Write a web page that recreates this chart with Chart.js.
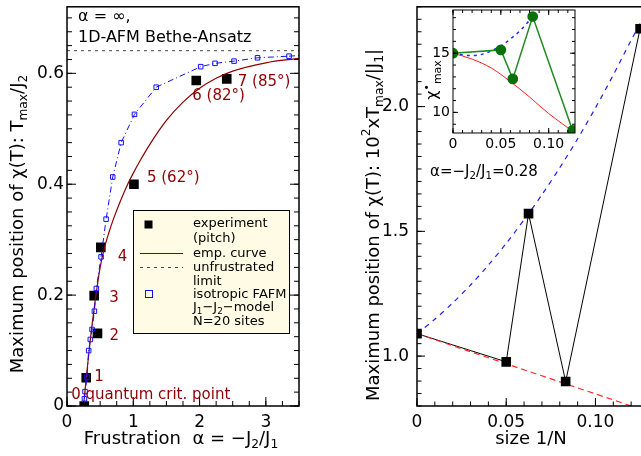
<!DOCTYPE html>
<html><head><meta charset="utf-8">
<script src="https://cdn.jsdelivr.net/npm/chart.js@4.4.1/dist/chart.umd.min.js"></script>
<style>
html,body{margin:0;padding:0;background:#fff;overflow:hidden;width:641px;height:456px;position:relative}
canvas{position:absolute;top:0}
#cL{left:0}
#cR{left:330px}
#cI{left:400px}
</style></head><body>
<canvas id="cL" width="320" height="456" style="width:320px;height:456px"></canvas>
<canvas id="cR" width="330" height="456" style="width:330px;height:456px"></canvas>
<canvas id="cI" width="190" height="160" style="width:190px;height:160px"></canvas>
<script>
// ================= DATA =================
// Left panel: frustration alpha vs T_max/J2
const leftXTicks = [0, 1, 2, 3];
const leftYTicks = [0, 0.2, 0.4, 0.6];
const expAlpha = [0.26, 0.29, 0.46, 0.41, 0.51, 1.01, 1.95, 2.41];
const expTmax  = [0.0, 0.051, 0.131, 0.199, 0.286, 0.400, 0.587, 0.590];
const expLabels = ['0 quantum crit. point', '1', '2', '3', '4', '5 (62°)', '6 (82°)', '7 (85°)'];
const empAlpha = [0.25, 0.29, 0.35, 0.42, 0.5, 0.56, 0.63, 0.7, 0.8, 0.9, 1.0, 1.1, 1.25, 1.5, 1.75, 2.0, 2.25, 2.5, 3.0, 3.5];
const empTmax  = [0.0, 0.05, 0.118, 0.185, 0.25, 0.283, 0.312, 0.337, 0.368, 0.396, 0.42, 0.442, 0.472, 0.515, 0.548, 0.573, 0.591, 0.604, 0.619, 0.627];
const fafmAlpha = [0.263, 0.272, 0.302, 0.327, 0.352, 0.378, 0.413, 0.443, 0.514, 0.59, 0.69, 0.817, 1.018, 1.346, 2.017, 2.233, 2.52, 2.874, 3.35];
const fafmTmax  = [0.013, 0.026, 0.052, 0.100, 0.120, 0.138, 0.171, 0.212, 0.269, 0.337, 0.413, 0.475, 0.526, 0.575, 0.612, 0.618, 0.622, 0.628, 0.631];
const fafmTailAlpha = [3.35, 3.5];
const fafmTailTmax  = [0.631, 0.632];
const betheLimit = 0.6408;

// Right panel: size 1/N vs 10^2 x T_max/|J1|
const rightXTicks = [0, 0.05, 0.10];
const rightYTicks = [1.0, 1.5, 2.0];
const invN  = [0, 0.05, 0.0625, 0.0833, 0.125];
const tmaxN = [1.090, 0.977, 1.571, 0.898, 2.312];
const redFitInvN = [0, 0.13];
const redFitTmax = [1.090, 0.776];
const blueFitInvN = [0, 0.01, 0.02, 0.03, 0.04, 0.05, 0.0625, 0.07, 0.08, 0.09, 0.10, 0.11, 0.12, 0.13];
const blueFitTmax = [1.090, 1.148, 1.213, 1.285, 1.365, 1.452, 1.571, 1.647, 1.755, 1.871, 1.995, 2.127, 2.266, 2.40];

// Inset: chi*_max vs 1/N
const insetXTicks = [0, 0.05, 0.10];
const insetYTicks = [10, 15];
const insetInvN = [0, 0.05, 0.0625, 0.0833, 0.125];
const insetChi  = [15.0, 15.28, 12.83, 18.1, 8.48];
const insetRedInvN = [0, 0.02, 0.04, 0.06, 0.08, 0.10, 0.12, 0.1275];
const insetRedChi  = [15.0, 14.5, 13.75, 12.6, 11.3, 9.9, 8.7, 8.25];
const insetBlueInvN = [0, 0.01, 0.02, 0.03, 0.04, 0.05, 0.06, 0.07, 0.0833];
const insetBlueChi  = [15.0, 14.85, 14.8, 14.9, 15.2, 15.6, 16.2, 16.9, 18.1];

// ================= HELPERS =================
const FONT = "'DejaVu Sans', sans-serif";
const DARKRED = '#8c0000';
const pts = (xs, ys) => xs.map((x, i) => ({x: x, y: ys[i]}));
const setTicks = vals => (scale => { scale.ticks = vals.map(v => ({value: v})); });
const fontStr = s => s + 'px ' + FONT;

function drawRich(ctx, segs, x, y, size, align, rot, color) {
  ctx.save();
  ctx.translate(x, y);
  if (rot) ctx.rotate(rot);
  ctx.fillStyle = color || '#000';
  ctx.textBaseline = 'middle';
  ctx.textAlign = 'left';
  let w = 0;
  for (const s of segs) { ctx.font = fontStr((s.sub || s.sup) ? size * 0.68 : size); w += ctx.measureText(s.t).width; }
  let cx = align === 'center' ? -w / 2 : 0;
  for (const s of segs) {
    const fs = (s.sub || s.sup) ? size * 0.68 : size;
    ctx.font = fontStr(fs);
    const dy = s.sub ? size * 0.32 : (s.sup ? -size * 0.38 : 0);
    ctx.fillText(s.t, cx, dy);
    cx += ctx.measureText(s.t).width;
  }
  ctx.restore();
}

function frameAndTicks(chart, o) {
  const ctx = chart.ctx, a = chart.chartArea, xs = chart.scales.x, ys = chart.scales.y;
  ctx.save();
  ctx.strokeStyle = '#000';
  ctx.lineWidth = o.lw;
  ctx.strokeRect(a.left, a.top, a.right - a.left, a.bottom - a.top);
  ctx.lineWidth = 1;
  ctx.beginPath();
  const yTick = (v, len) => {
    const p = ys.getPixelForValue(v);
    if (p < a.top - 0.5 || p > a.bottom + 0.5) return;
    if (o.left) { ctx.moveTo(a.left, p); ctx.lineTo(a.left + len, p); }
    if (o.right) { ctx.moveTo(a.right, p); ctx.lineTo(a.right - len, p); }
  };
  const xTick = (v, len) => {
    const p = xs.getPixelForValue(v);
    if (p < a.left - 0.5 || p > a.right + 0.5) return;
    if (o.bottom) { ctx.moveTo(p, a.bottom); ctx.lineTo(p, a.bottom - len); }
    if (o.top) { ctx.moveTo(p, a.top); ctx.lineTo(p, a.top + len); }
  };
  const n1 = Math.ceil(ys.min / o.yMinor - 1e-6), n2 = Math.floor(ys.max / o.yMinor + 1e-6);
  for (let i = n1; i <= n2; i++) yTick(i * o.yMinor, o.minor);
  const m1 = Math.ceil(xs.min / o.xMinor - 1e-6), m2 = Math.floor(xs.max / o.xMinor + 1e-6);
  for (let i = m1; i <= m2; i++) xTick(i * o.xMinor, o.minor);
  ys.ticks.forEach(t => yTick(t.value, o.major));
  xs.ticks.forEach(t => xTick(t.value, o.major));
  ctx.stroke();
  ctx.restore();
}

function scaleCfg(min, max, tickVals, fmt, size, pad, fit) {
  return {
    type: 'linear', min: min, max: max,
    afterBuildTicks: setTicks(tickVals),
    afterFit: s => { fit(s); s.paddingTop = 0; s.paddingBottom = 0; s.paddingLeft = 0; s.paddingRight = 0; },
    grid: {display: false, drawTicks: false},
    border: {display: false},
    ticks: {padding: pad, color: '#000', font: {family: FONT, size: size}, callback: fmt, maxRotation: 0, autoSkip: false}
  };
}
const baseOpts = {responsive: false, animation: false, devicePixelRatio: 1, events: [],
  plugins: {legend: {display: false}, tooltip: {enabled: false}}};

// ================= LEFT CHART =================
const labelOffsets = [[-13, -11], [8, -1], [12, 3], [15, 2], [17, 10], [13, -6], [-4, 16], [11, 3]];
const leftDecor = {
  id: 'leftDecor',
  afterDatasetsDraw(chart) {
    const ctx = chart.ctx, xs = chart.scales.x, ys = chart.scales.y;
    frameAndTicks(chart, {lw: 1.5, left: true, right: true, bottom: true, top: false, yMinor: 0.025, xMinor: 0.25, major: 9, minor: 5});
    // point labels
    ctx.save();
    ctx.fillStyle = DARKRED; ctx.font = fontStr(15); ctx.textBaseline = 'middle'; ctx.textAlign = 'left';
    expLabels.forEach((t, i) => {
      ctx.fillText(t, xs.getPixelForValue(expAlpha[i]) + labelOffsets[i][0], ys.getPixelForValue(expTmax[i]) + labelOffsets[i][1]);
    });
    ctx.restore();
    // top annotation
    drawRich(ctx, [{t: 'α = ∞,'}], 78, 17, 16, 'left');
    drawRich(ctx, [{t: '1D-AFM Bethe-Ansatz'}], 78, 38, 16, 'left');
    // legend box
    ctx.save();
    ctx.fillStyle = '#fffbe4'; ctx.strokeStyle = '#000'; ctx.lineWidth = 1;
    ctx.fillRect(133.5, 210.5, 156, 123); ctx.strokeRect(133.5, 210.5, 156, 123);
    ctx.fillStyle = '#000'; ctx.fillRect(144.5, 220.5, 8, 8);
    ctx.strokeStyle = DARKRED; ctx.lineWidth = 1.2; ctx.beginPath(); ctx.moveTo(140, 253.5); ctx.lineTo(183, 253.5); ctx.stroke();
    ctx.strokeStyle = '#444'; ctx.lineWidth = 1; ctx.setLineDash([3, 4]); ctx.beginPath(); ctx.moveTo(140, 267.5); ctx.lineTo(183, 267.5); ctx.stroke();
    ctx.setLineDash([]);
    ctx.strokeStyle = '#1010ff'; ctx.strokeRect(145.5, 290.5, 7, 7);
    ctx.restore();
    const L = 193, fs = 13;
    drawRich(ctx, [{t: 'experiment'}], L, 224, fs, 'left');
    drawRich(ctx, [{t: '(pitch)'}], L, 238.5, fs, 'left');
    drawRich(ctx, [{t: 'emp. curve'}], L, 253.5, fs, 'left');
    drawRich(ctx, [{t: 'unfrustrated'}], L, 267.5, fs, 'left');
    drawRich(ctx, [{t: 'limit'}], L, 282, fs, 'left');
    drawRich(ctx, [{t: 'isotropic FAFM'}], L, 294.5, fs, 'left');
    drawRich(ctx, [{t: 'J'}, {t: '1', sub: 1}, {t: '−J'}, {t: '2', sub: 1}, {t: '−model'}], L, 308, fs, 'left');
    drawRich(ctx, [{t: 'N=20 sites'}], L, 321.5, fs, 'left');
    // axis titles
    drawRich(ctx, [{t: 'Maximum position of χ(T): T'}, {t: 'max', sub: 1}, {t: '/J'}, {t: '2', sub: 1}], 18, 224, 18, 'center', -Math.PI / 2);
    drawRich(ctx, [{t: 'Frustration  α = −J'}, {t: '2', sub: 1}, {t: '/J'}, {t: '1', sub: 1}], 181, 439, 18, 'center');
  }
};

new Chart(document.getElementById('cL'), {
  type: 'scatter',
  data: {datasets: [
    {label: 'isotropic FAFM', data: pts(fafmAlpha, fafmTmax), showLine: true, borderColor: '#1010ff', borderWidth: 1, borderDash: [6, 3, 1, 3],
     pointStyle: 'rect', pointRadius: 3.2, pointBorderColor: '#1010ff', pointBackgroundColor: 'rgba(0,0,0,0)', pointBorderWidth: 1, order: 0},
    {label: 'isotropic FAFM tail', data: pts(fafmTailAlpha, fafmTailTmax), showLine: true, borderColor: '#1010ff', borderWidth: 1, borderDash: [6, 3, 1, 3], pointRadius: 0, order: 0},
    {label: 'emp. curve', data: pts(empAlpha, empTmax), showLine: true, borderColor: DARKRED, borderWidth: 1.2, pointRadius: 0, cubicInterpolationMode: 'monotone', order: 1},
    {label: 'experiment', data: pts(expAlpha, expTmax), showLine: false, pointStyle: 'rect', pointRadius: 6.8, pointBackgroundColor: '#000', pointBorderColor: '#000', pointBorderWidth: 0, order: 2},
    {label: 'unfrustrated limit', data: [{x: 0, y: betheLimit}, {x: 3.5, y: betheLimit}], showLine: true, borderColor: '#444', borderWidth: 1, borderDash: [3, 4], pointRadius: 0, order: 3}
  ]},
  options: Object.assign({}, baseOpts, {
    layout: {padding: {top: 5, right: 21, left: 0, bottom: 0}},
    scales: {
      x: scaleCfg(0, 3.5, leftXTicks, v => String(v), 17, 6, s => { s.height = 50; }),
      y: scaleCfg(0, 0.72, leftYTicks, v => v === 0 ? '0' : v.toFixed(1), 17, 3, s => { s.width = 67; })
    }
  }),
  plugins: [leftDecor]
});

// ================= RIGHT CHART =================
const rightDecor = {
  id: 'rightDecor',
  afterDatasetsDraw(chart) {
    const ctx = chart.ctx, xs = chart.scales.x, ys = chart.scales.y;
    frameAndTicks(chart, {lw: 1.5, left: true, right: true, bottom: true, top: false, yMinor: 0.05, xMinor: 0.01, major: 8, minor: 4.5});
    drawRich(ctx, [{t: 'α=−J'}, {t: '2', sub: 1}, {t: '/J'}, {t: '1', sub: 1}, {t: '=0.28'}], xs.getPixelForValue(0.0073), ys.getPixelForValue(1.738), 15, 'left');
    drawRich(ctx, [{t: 'Maximum position of χ(T): 10'}, {t: '2', sup: 1}, {t: 'xT'}, {t: 'max', sub: 1}, {t: '/|J'}, {t: '1', sub: 1}, {t: '|'}], 44, 225, 18, 'center', -Math.PI / 2);
    drawRich(ctx, [{t: 'size 1/N'}], 201, 439, 18, 'center');
  }
};
new Chart(document.getElementById('cR'), {
  type: 'scatter',
  data: {datasets: [
    {label: 'pts', data: pts(invN, tmaxN), showLine: false, pointStyle: 'rect', pointRadius: 6.8, pointBackgroundColor: '#000', pointBorderWidth: 0, order: 0},
    {label: 'red fit', data: pts(redFitInvN, redFitTmax), showLine: true, borderColor: '#ff2a2a', borderWidth: 1.2, borderDash: [6, 4], pointRadius: 0, order: 1},
    {label: 'blue fit', data: pts(blueFitInvN, blueFitTmax), showLine: true, borderColor: '#2020ff', borderWidth: 1.2, borderDash: [5, 5], pointRadius: 0, tension: 0.3, order: 2},
    {label: 'connect', data: pts(invN, tmaxN), showLine: true, borderColor: '#000', borderWidth: 1, pointRadius: 0, order: 3}
  ]},
  options: Object.assign({}, baseOpts, {
    layout: {padding: {top: 5, right: 11, left: 0, bottom: 0}},
    scales: {
      x: scaleCfg(0, 0.13, rightXTicks, v => v === 0 ? '0' : v.toFixed(2), 17, 6, s => { s.height = 50; }),
      y: scaleCfg(0.8, 2.4, rightYTicks, v => v.toFixed(1), 17, 8, s => { s.width = 87; })
    }
  }),
  plugins: [rightDecor]
});

// ================= INSET =================
const insetDecor = {
  id: 'insetDecor',
  beforeDatasetsDraw(chart) {
    const a = chart.chartArea, ctx = chart.ctx;
    ctx.save(); ctx.fillStyle = '#fff'; ctx.fillRect(a.left, a.top, a.right - a.left, a.bottom - a.top); ctx.restore();
  },
  afterDatasetsDraw(chart) {
    frameAndTicks(chart, {lw: 1, left: true, right: true, bottom: true, top: true, yMinor: 1, xMinor: 0.01, major: 5, minor: 3});
    drawRich(chart.ctx, [{t: 'χ'}, {t: '•', sup: 1}, {t: 'max', sub: 1}], 33, 80, 16, 'center', -Math.PI / 2);
  }
};
new Chart(document.getElementById('cI'), {
  type: 'scatter',
  data: {datasets: [
    {label: 'chi', data: pts(insetInvN, insetChi), showLine: true, borderColor: '#1f8a1f', borderWidth: 1.5, pointStyle: 'circle', pointRadius: 4.6, pointBackgroundColor: '#0b700b', pointBorderColor: '#0b700b', order: 0},
    {label: 'red', data: pts(insetRedInvN, insetRedChi), showLine: true, borderColor: '#ff2020', borderWidth: 1, pointRadius: 0, cubicInterpolationMode: 'monotone', order: 1},
    {label: 'blue', data: pts(insetBlueInvN, insetBlueChi), showLine: true, borderColor: '#2020ff', borderWidth: 1.5, borderDash: [3, 4], pointRadius: 0, cubicInterpolationMode: 'monotone', order: 2}
  ]},
  options: Object.assign({}, baseOpts, {
    layout: {padding: {top: 10, right: 15, left: 0, bottom: 0}},
    scales: {
      x: scaleCfg(0, 0.1275, insetXTicks, v => v === 0 ? '0' : v.toFixed(2), 14, 3, s => { s.height = 27; }),
      y: scaleCfg(8.26, 18.65, insetYTicks, v => String(v), 14, 3, s => { s.width = 53; })
    }
  }),
  plugins: [insetDecor]
});
</script>
</body></html>
